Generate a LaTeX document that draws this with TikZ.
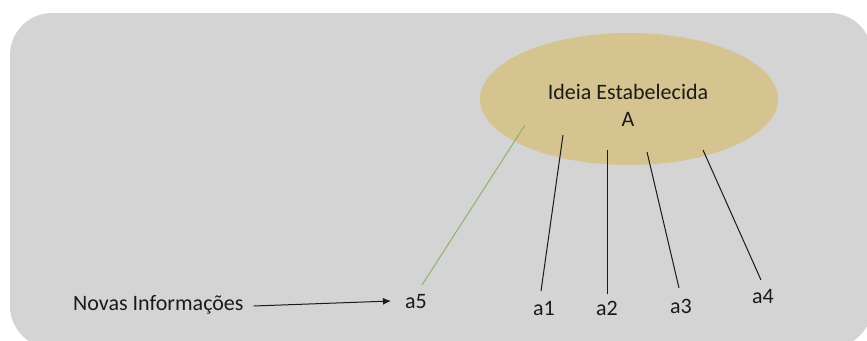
\documentclass[tikz,border=0pt]{standalone}
\usepackage{fontspec}
\setmainfont{Carlito}
\usetikzlibrary{arrows.meta,shapes.geometric}
\definecolor{bggray}{HTML}{D4D4D4}
\definecolor{tan}{HTML}{D5C48F}
\definecolor{lgreen}{HTML}{8DB36A}
\definecolor{ink}{HTML}{1A1A1A}
\tikzset{
  lbl/.style={font=\fontsize{22}{24}\selectfont, text=ink, inner sep=0pt},
  ray/.style={draw=ink, line width=1pt},
}
\begin{document}
\begin{tikzpicture}[x=1pt,y=-1pt]
\useasboundingbox (0,0) rectangle (867,340);
\clip (0,0) rectangle (867,340);
\fill[bggray, rounded corners=42pt] (10,13) rectangle (872,348);
\node[ellipse, fill=tan, minimum width=298pt, minimum height=132pt, inner sep=0pt] (E) at (629,99) {};
\node[lbl] (t1) at (628,92) {Ideia Estabelecida};
\node[lbl] (t2) at (628,119) {A};
\coordinate (s5) at (525,125);
\coordinate (s1) at (563,135);
\coordinate (s2) at (607,150);
\coordinate (s3) at (647,152);
\coordinate (s4) at (703,150);
\coordinate (e5) at (422,285);
\coordinate (e1) at (541,291);
\coordinate (e2) at (607,294);
\coordinate (e3) at (679,288);
\coordinate (e4) at (761,280);
\node[lbl] (a5) at (416,302) {a5};
\node[lbl] (a1) at (544,308) {a1};
\node[lbl] (a2) at (607,308) {a2};
\node[lbl] (a3) at (681,306) {a3};
\node[lbl] (a4) at (763,297) {a4};
\node[lbl, anchor=west] (nov) at (73,305) {Novas Informações};
\draw[draw=lgreen, line width=1pt] (s5) -- (e5);
\draw[ray] (s1) -- (e1);
\draw[ray] (s2) -- (e2);
\draw[ray] (s3) -- (e3);
\draw[ray] (s4) -- (e4);
\draw[ray, -{Latex[length=8pt,width=7pt]}] (nov.east) ++(10,1) -- ([xshift=-14pt,yshift=1pt]a5.west);
\end{tikzpicture}
\end{document}
